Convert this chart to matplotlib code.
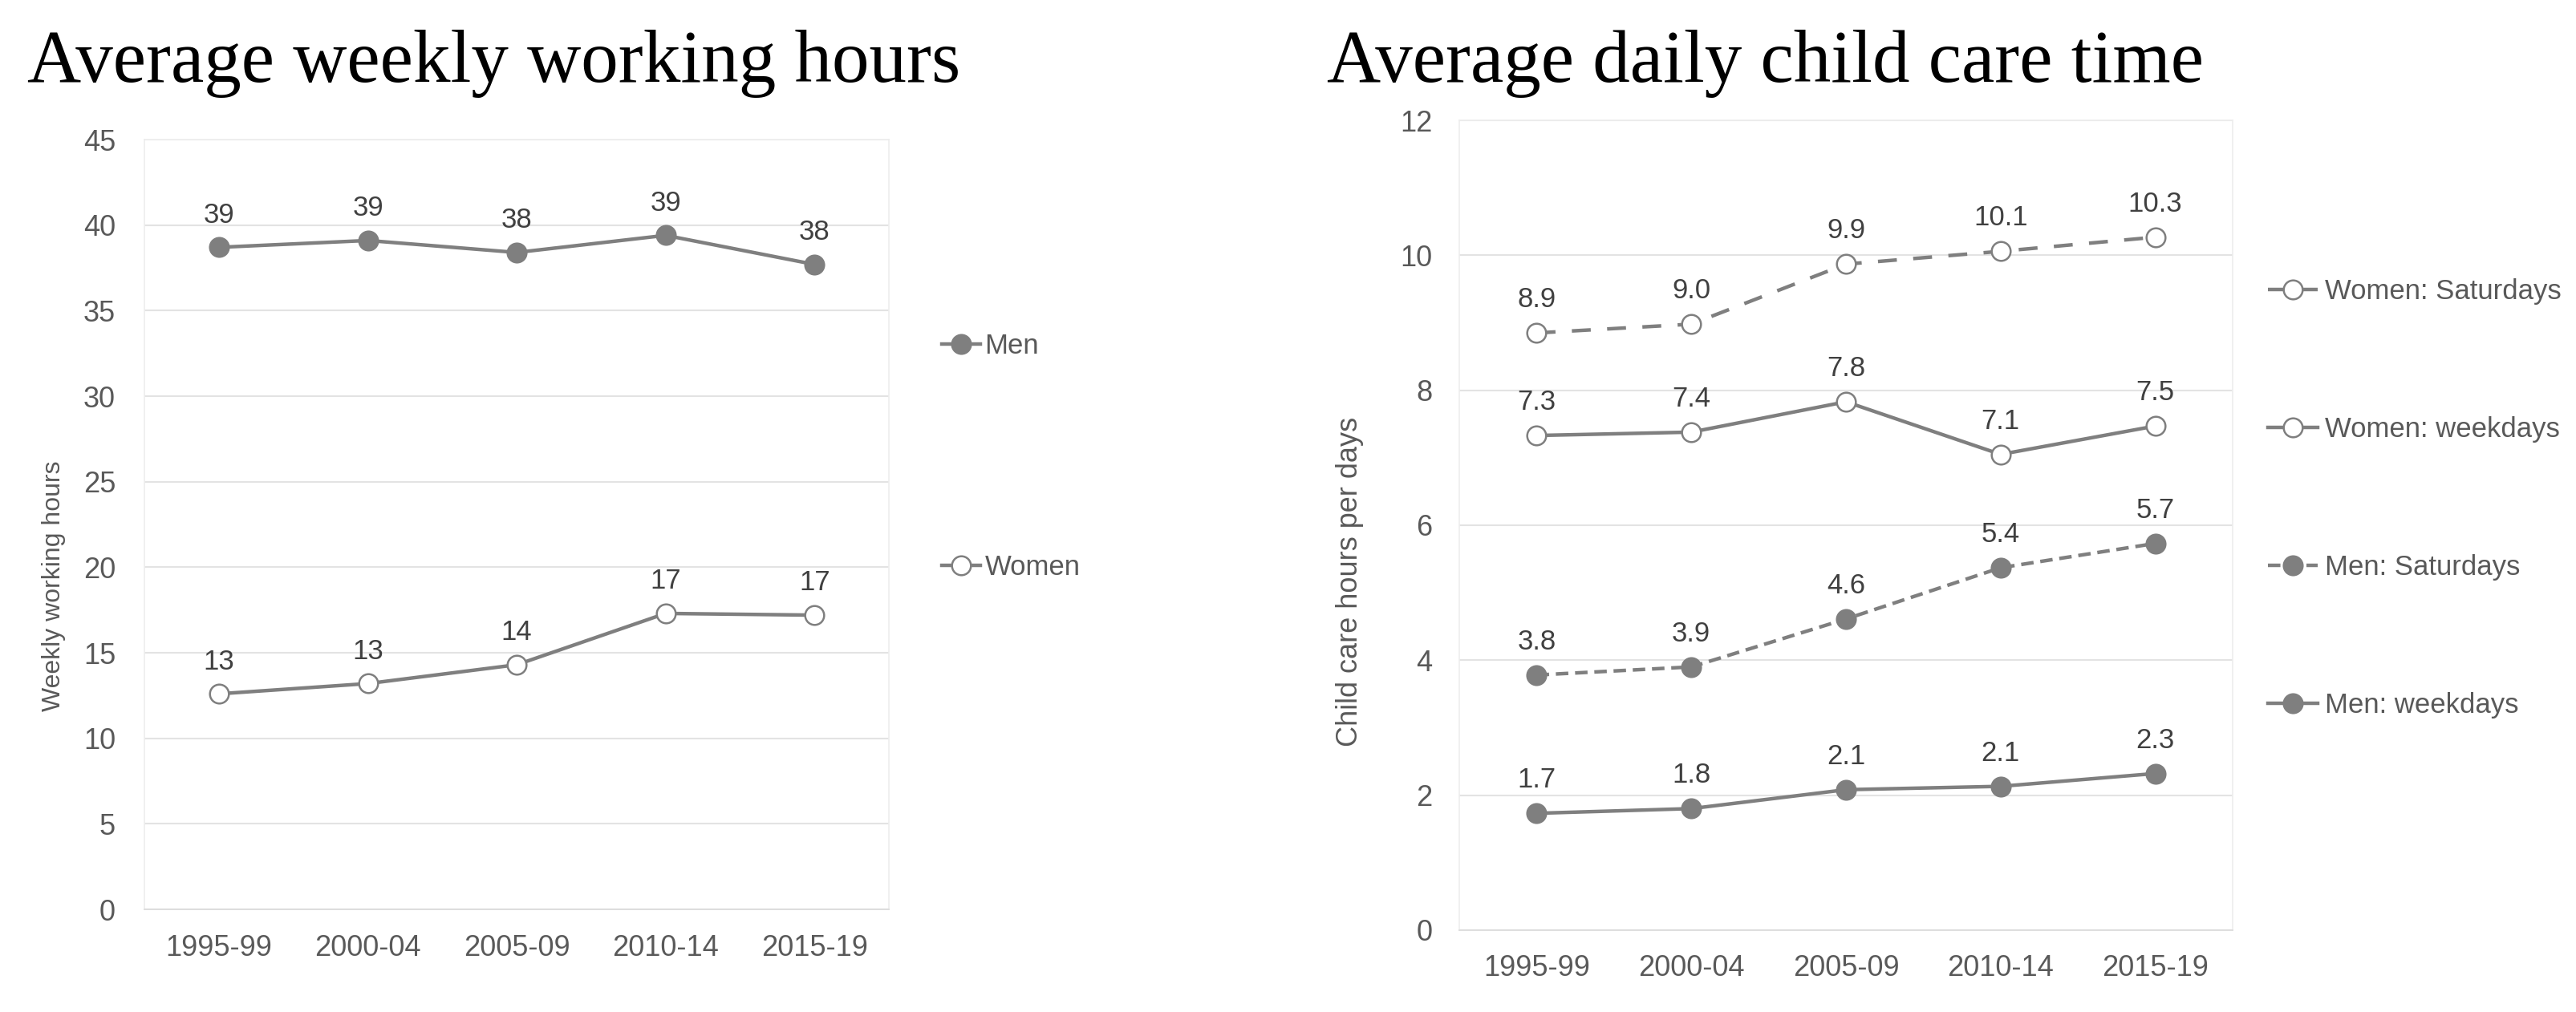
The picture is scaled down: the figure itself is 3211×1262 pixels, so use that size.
import matplotlib.pyplot as plt

periods = ['1995-99', '2000-04', '2005-09', '2010-14', '2015-19']

# weekly working hours
men_hours = [38.7, 39.1, 38.4, 39.4, 37.7]
women_hours = [12.6, 13.2, 14.3, 17.3, 17.2]
men_hours_lbl = ['39', '39', '38', '39', '38']
women_hours_lbl = ['13', '13', '14', '17', '17']

# daily child care hours
women_sat = [8.85, 8.98, 9.87, 10.06, 10.27]
women_wd = [7.33, 7.38, 7.83, 7.05, 7.47]
men_sat = [3.78, 3.90, 4.61, 5.37, 5.73]
men_wd = [1.73, 1.80, 2.08, 2.13, 2.32]
women_sat_lbl = ['8.9', '9.0', '9.9', '10.1', '10.3']
women_wd_lbl = ['7.3', '7.4', '7.8', '7.1', '7.5']
men_sat_lbl = ['3.8', '3.9', '4.6', '5.4', '5.7']
men_wd_lbl = ['1.7', '1.8', '2.1', '2.1', '2.3']

LINE = '#7f7f7f'
TXT = '#595959'
GRID = '#e3e3e3'

plt.rcParams['font.family'] = ['Liberation Sans', 'DejaVu Sans']

fig = plt.figure(figsize=(32.11, 12.62), dpi=100)
ax1 = fig.add_axes([0.0561, 0.1014, 0.289, 0.7607])
ax2 = fig.add_axes([0.5665, 0.081, 0.3002, 0.800])


def draw(ax, y, lbls, label, filled, dashes=None, off=17):
    x = list(range(len(periods)))
    kw = {}
    if dashes:
        kw['dashes'] = dashes
    ax.plot(x, y, color=LINE, lw=3.2, marker='o', ms=17,
            mfc=LINE if filled else 'white', mec=LINE, mew=1.8,
            label=label, zorder=3, **kw)
    for xi, yi, t in zip(x, y, lbls):
        ax.annotate(t, (xi, yi), xytext=(0, off), textcoords='offset points',
                    ha='center', va='bottom', fontsize=25, color='#404040')


def style(ax, ymax, step, xpad, ypad):
    ax.set_xlim(-0.5, 4.5)
    ax.set_ylim(0, ymax)
    ax.set_yticks(range(0, ymax + 1, step))
    ax.set_xticks(range(len(periods)))
    ax.set_xticklabels(periods)
    ax.grid(axis='y', color=GRID, lw=1.5, zorder=0)
    ax.tick_params(axis='both', length=0, labelsize=26, labelcolor=TXT)
    ax.tick_params(axis='x', pad=xpad)
    ax.tick_params(axis='y', pad=ypad)
    for s in ax.spines.values():
        s.set_color('#ededed')
        s.set_linewidth(1.2)
    ax.spines['bottom'].set_color('#d9d9d9')


draw(ax1, men_hours, men_hours_lbl, 'Men', True)
draw(ax1, women_hours, women_hours_lbl, 'Women', False)
style(ax1, 45, 5, 22, 26)
ax1.set_ylabel('Weekly working hours', fontsize=23, color=TXT)
ax1.yaxis.set_label_coords(-0.106, 0.42)
ax1.legend(loc='upper left', bbox_to_anchor=(0.3655, 0.671), bbox_transform=fig.transFigure,
           frameon=False, fontsize=25, labelspacing=7.0, handlelength=1.4,
           handletextpad=0.15, borderpad=0, borderaxespad=0, labelcolor=TXT)

draw(ax2, women_sat, women_sat_lbl, 'Women: Saturdays', False, (5.3, 4.6), 18)
draw(ax2, women_wd, women_wd_lbl, 'Women: weekdays', False, None, 18)
draw(ax2, men_sat, men_sat_lbl, 'Men: Saturdays', True, (3.5, 1.9), 18)
draw(ax2, men_wd, men_wd_lbl, 'Men: weekdays', True, None, 18)
style(ax2, 12, 2, 22, 24)
ax2.set_ylabel('Child care hours per days', fontsize=26, color=TXT)
ax2.yaxis.set_label_coords(-0.124, 0.43)
ax2.legend(loc='upper left', bbox_to_anchor=(0.8804, 0.725), bbox_transform=fig.transFigure,
           frameon=False, fontsize=25, labelspacing=4.0, handlelength=1.8,
           handletextpad=0.25, borderpad=0, borderaxespad=0, labelcolor=TXT)

fig.text(0.0105, 0.919, 'Average weekly working hours', family='Liberation Serif',
         fontsize=67, va='baseline', ha='left')
fig.text(0.515, 0.919, 'Average daily child care time', family='Liberation Serif',
         fontsize=67, va='baseline', ha='left')

fig.savefig('out.png', dpi=100, facecolor='white')
